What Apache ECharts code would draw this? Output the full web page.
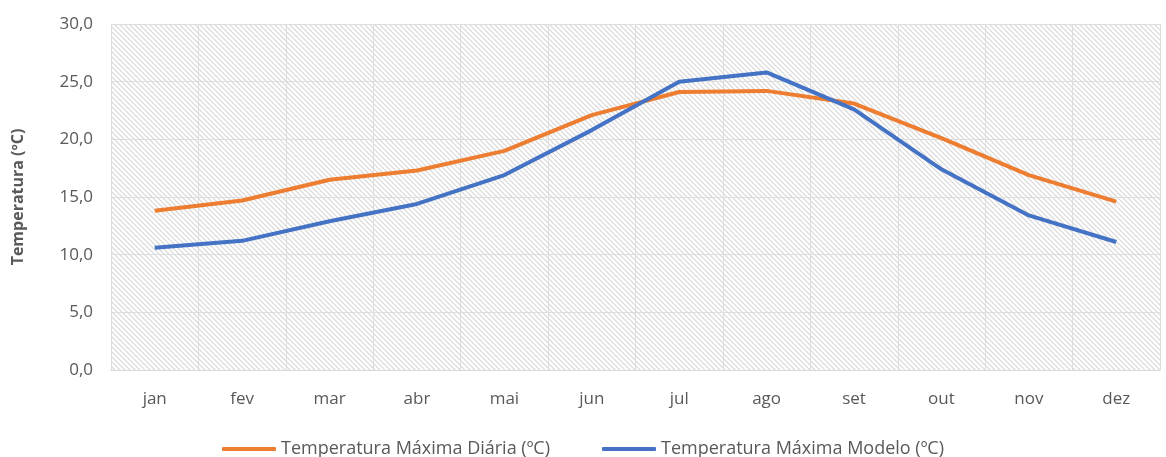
<!DOCTYPE html>
<html>
<head>
<meta charset="utf-8">
<script src="https://cdn.jsdelivr.net/npm/echarts@6/dist/echarts.min.js"></script>
<style>
  html, body { margin: 0; padding: 0; background: #fff; }
  #chart { width: 1166px; height: 457px; }
</style>
</head>
<body>
<div id="chart"></div>
<script>
// meses
const months = ['jan', 'fev', 'mar', 'abr', 'mai', 'jun', 'jul', 'ago', 'set', 'out', 'nov', 'dez'];
// séries
const tempDiaria = [13.8, 14.7, 16.5, 17.3, 19.0, 22.1, 24.1, 24.2, 23.1, 20.1, 16.9, 14.6];
const tempModelo = [10.6, 11.2, 12.9, 14.4, 16.9, 20.8, 25.0, 25.8, 22.6, 17.4, 13.4, 11.1];
const seriesNames = ['Temperatura Máxima Diária (ºC)', 'Temperatura Máxima Modelo (ºC)'];

// padrão tracejado diagonal do fundo
function hatch() {
    const s = 5;
    const c = document.createElement('canvas');
    c.width = s; c.height = s;
    const ctx = c.getContext('2d');
    ctx.fillStyle = '#ffffff';
    ctx.fillRect(0, 0, s, s);
    ctx.strokeStyle = '#d6d6d6';
    ctx.lineWidth = 1.1;
    ctx.beginPath();
    ctx.moveTo(-1, -1); ctx.lineTo(s + 1, s + 1);
    ctx.moveTo(-1, s - 1); ctx.lineTo(1, s + 1);
    ctx.moveTo(s - 1, -1); ctx.lineTo(s + 1, 1);
    ctx.stroke();
    return c;
}

const chart = echarts.init(document.getElementById('chart'));
const font = '"Open Sans", "Liberation Sans", sans-serif';

chart.setOption({
    animation: false,
    textStyle: { fontFamily: font },
    grid: {
        left: 111, right: 6, top: 24, bottom: 87,
        show: true,
        borderWidth: 0,
        backgroundColor: { image: hatch(), repeat: 'repeat' }
    },
    legend: {
        bottom: -6,
        left: 'center',
        itemWidth: 54,
        itemHeight: 4,
        itemGap: 52,
        icon: 'roundRect',
        textStyle: { color: '#595959', fontSize: 18, fontFamily: font },
        data: seriesNames
    },
    xAxis: {
        type: 'category',
        data: months,
        boundaryGap: true,
        axisLine: { lineStyle: { color: '#d9d9d9', width: 1 } },
        axisTick: { show: false },
        splitLine: { show: true, interval: 0, lineStyle: { color: '#dedede', width: 1 } },
        axisLabel: { color: '#595959', fontSize: 17, margin: 21, interval: 0 }
    },
    yAxis: {
        type: 'value',
        min: 0, max: 30, interval: 5,
        name: 'Temperatura (ºC)',
        nameLocation: 'middle',
        nameGap: 85,
        nameTextStyle: { color: '#595959', fontSize: 16, fontWeight: 'bold', fontFamily: font },
        axisLine: { show: false },
        axisTick: { show: false },
        splitLine: { lineStyle: { color: '#dedede', width: 1 } },
        axisLabel: {
            color: '#595959', fontSize: 17, margin: 18,
            formatter: v => v.toFixed(1).replace('.', ',')
        }
    },
    series: [
        {
            name: seriesNames[0],
            type: 'line',
            data: tempDiaria,
            symbol: 'none',
            lineStyle: { color: '#ED7D31', width: 4 },
            itemStyle: { color: '#ED7D31' }
        },
        {
            name: seriesNames[1],
            type: 'line',
            data: tempModelo,
            symbol: 'none',
            lineStyle: { color: '#4472C4', width: 4 },
            itemStyle: { color: '#4472C4' }
        }
    ]
});
</script>
</body>
</html>
